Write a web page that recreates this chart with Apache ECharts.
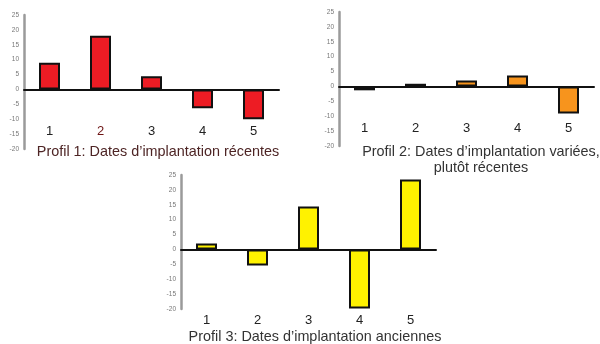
<!DOCTYPE html>
<html>
<head>
<meta charset="utf-8">
<script src="https://cdn.jsdelivr.net/npm/echarts@6/dist/echarts.min.js"></script>
<style>html,body{margin:0;padding:0;background:#fff}#c{width:600px;height:344px}</style>
</head>
<body>
<div id="c"></div>
<script>
var categories = ['1', '2', '3', '4', '5'];
var profil1 = [9, 18, 4.4, -6.3, -10];
var profil2 = [-1.3, 0.9, 2.0, 3.7, -9.1];
var profil3 = [2, -5.4, 14.4, -19.8, 23.5];
var yTicks = { min: -20, max: 25, interval: 5 };
var titles = [
  'Profil 1: Dates d\u2019implantation récentes',
  'Profil 2: Dates d\u2019implantation variées,\nplutôt récentes',
  'Profil 3: Dates d\u2019implantation anciennes'
];
var colors = ['#ed1c24', '#f7941d', '#fff200'];

var font = '"Liberation Sans", Arial, sans-serif';
var grids = [
  { left: 24, top: 15, width: 255, height: 134, outerBoundsMode: 'none', containLabel: false },
  { left: 339, top: 12, width: 255, height: 134, outerBoundsMode: 'none', containLabel: false },
  { left: 181, top: 175, width: 255, height: 134, outerBoundsMode: 'none', containLabel: false }
];
var labelMargins = [-24, -24, 5];
var labelColors = [
  function (v, i) { return i === 1 ? '#6e1515' : '#222'; },
  '#222',
  '#222'
];
var seriesData = [profil1, profil2, profil3];

var option = {
  backgroundColor: '#fff',
  animation: false,
  grid: grids,
  xAxis: grids.map(function (g, i) {
    return {
      type: 'category', gridIndex: i, data: categories,
      axisLine: { onZero: true, lineStyle: { color: '#111', width: 2 } },
      axisTick: { show: false },
      axisLabel: { margin: labelMargins[i], fontSize: 13, fontFamily: font, color: labelColors[i] },
      splitLine: { show: false }
    };
  }),
  yAxis: grids.map(function (g, i) {
    return {
      type: 'value', gridIndex: i, min: yTicks.min, max: yTicks.max, interval: yTicks.interval,
      axisLine: { show: true, onZero: false, lineStyle: { color: '#9a9a9a', width: 2.5 } },
      axisTick: { show: false },
      axisLabel: { margin: 5, fontSize: 6.5, fontFamily: font, color: '#777' },
      splitLine: { show: false }
    };
  }),
  series: seriesData.map(function (d, i) {
    return {
      type: 'bar', xAxisIndex: i, yAxisIndex: i, data: d, barWidth: 21,
      itemStyle: { color: colors[i], borderColor: '#111', borderWidth: 2 }
    };
  }),
  graphic: [
    { type: 'text', x: 158, y: 152, style: { text: titles[0], font: '14.4px ' + font, fill: '#4d2424', align: 'center', verticalAlign: 'middle' } },
    { type: 'text', x: 481, y: 160, style: { text: titles[1], font: '14.4px ' + font, fill: '#333', align: 'center', verticalAlign: 'middle', lineHeight: 16 } },
    { type: 'text', x: 315, y: 337, style: { text: titles[2], font: '14.4px ' + font, fill: '#333', align: 'center', verticalAlign: 'middle' } }
  ]
};
echarts.init(document.getElementById('c')).setOption(option);
</script>
</body>
</html>
